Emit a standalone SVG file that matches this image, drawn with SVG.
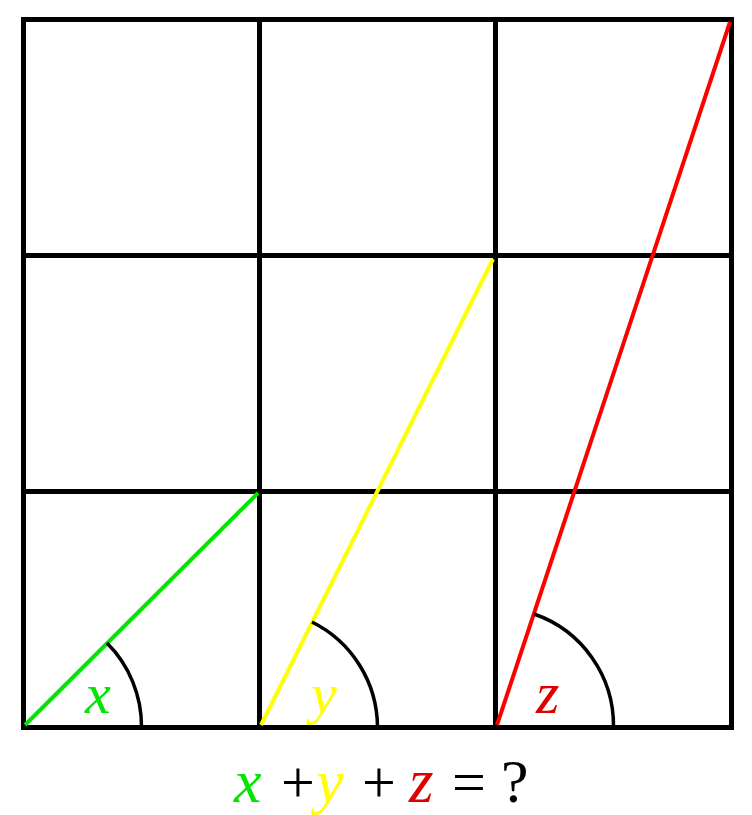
<svg xmlns="http://www.w3.org/2000/svg" width="752" height="815" viewBox="0 0 752 815">
<style>
.grid{stroke:#000;stroke-width:5;fill:none}
.arc{stroke:#000;stroke-width:3.5;fill:none}
.seg{stroke-width:4;fill:none}
.lbl{font-family:"Liberation Serif",serif;font-style:italic;font-size:58px}
.eq{font-family:"Liberation Serif",serif;font-size:60px}
</style>
<rect width="752" height="815" fill="#fff"/>
<g id="grid">
<rect class="grid" x="23.5" y="19.5" width="708" height="708"/>
<line class="grid" x1="259.5" y1="19.5" x2="259.5" y2="727.5"/>
<line class="grid" x1="495.5" y1="19.5" x2="495.5" y2="727.5"/>
<line class="grid" x1="23.5" y1="255.5" x2="731.5" y2="255.5"/>
<line class="grid" x1="23.5" y1="491.5" x2="731.5" y2="491.5"/>
</g>
<g id="lines">
<line class="seg" stroke="#00e600" x1="25" y1="725" x2="258" y2="493"/>
<line class="seg" stroke="#ffff00" x1="261" y1="725" x2="493" y2="259"/>
<line class="seg" stroke="#ff0000" x1="497" y1="725" x2="730" y2="22"/>
</g>
<g id="arcs">
<path class="arc" d="M 107 643 A 118 118 0 0 1 141.5 727"/>
<path class="arc" d="M 312 622 A 118 118 0 0 1 377.5 727"/>
<path class="arc" d="M 534 614 A 118 118 0 0 1 613.5 727"/>
</g>
<g id="labels">
<text class="lbl" x="85" y="713" fill="#00e600">x</text>
<text class="lbl" x="311" y="713" fill="#ffff00">y</text>
<text class="lbl" x="536" y="713" fill="#e00000" style="font-size:60px">z</text>
</g>
<g id="equation">
<text class="lbl" x="234" y="802" fill="#00e600" style="font-size:62px">x</text>
<text class="eq" x="281" y="802" fill="#000">+</text>
<text class="lbl" x="316" y="802" fill="#ffff00" style="font-size:62px">y</text>
<text class="eq" x="362" y="802" fill="#000">+</text>
<text class="lbl" x="409" y="802" fill="#e00000" style="font-size:63px">z</text>
<text class="eq" x="452" y="802" fill="#000">=</text>
<text class="eq" x="501" y="802" fill="#000" style="font-size:62px">?</text>
</g>
</svg>
